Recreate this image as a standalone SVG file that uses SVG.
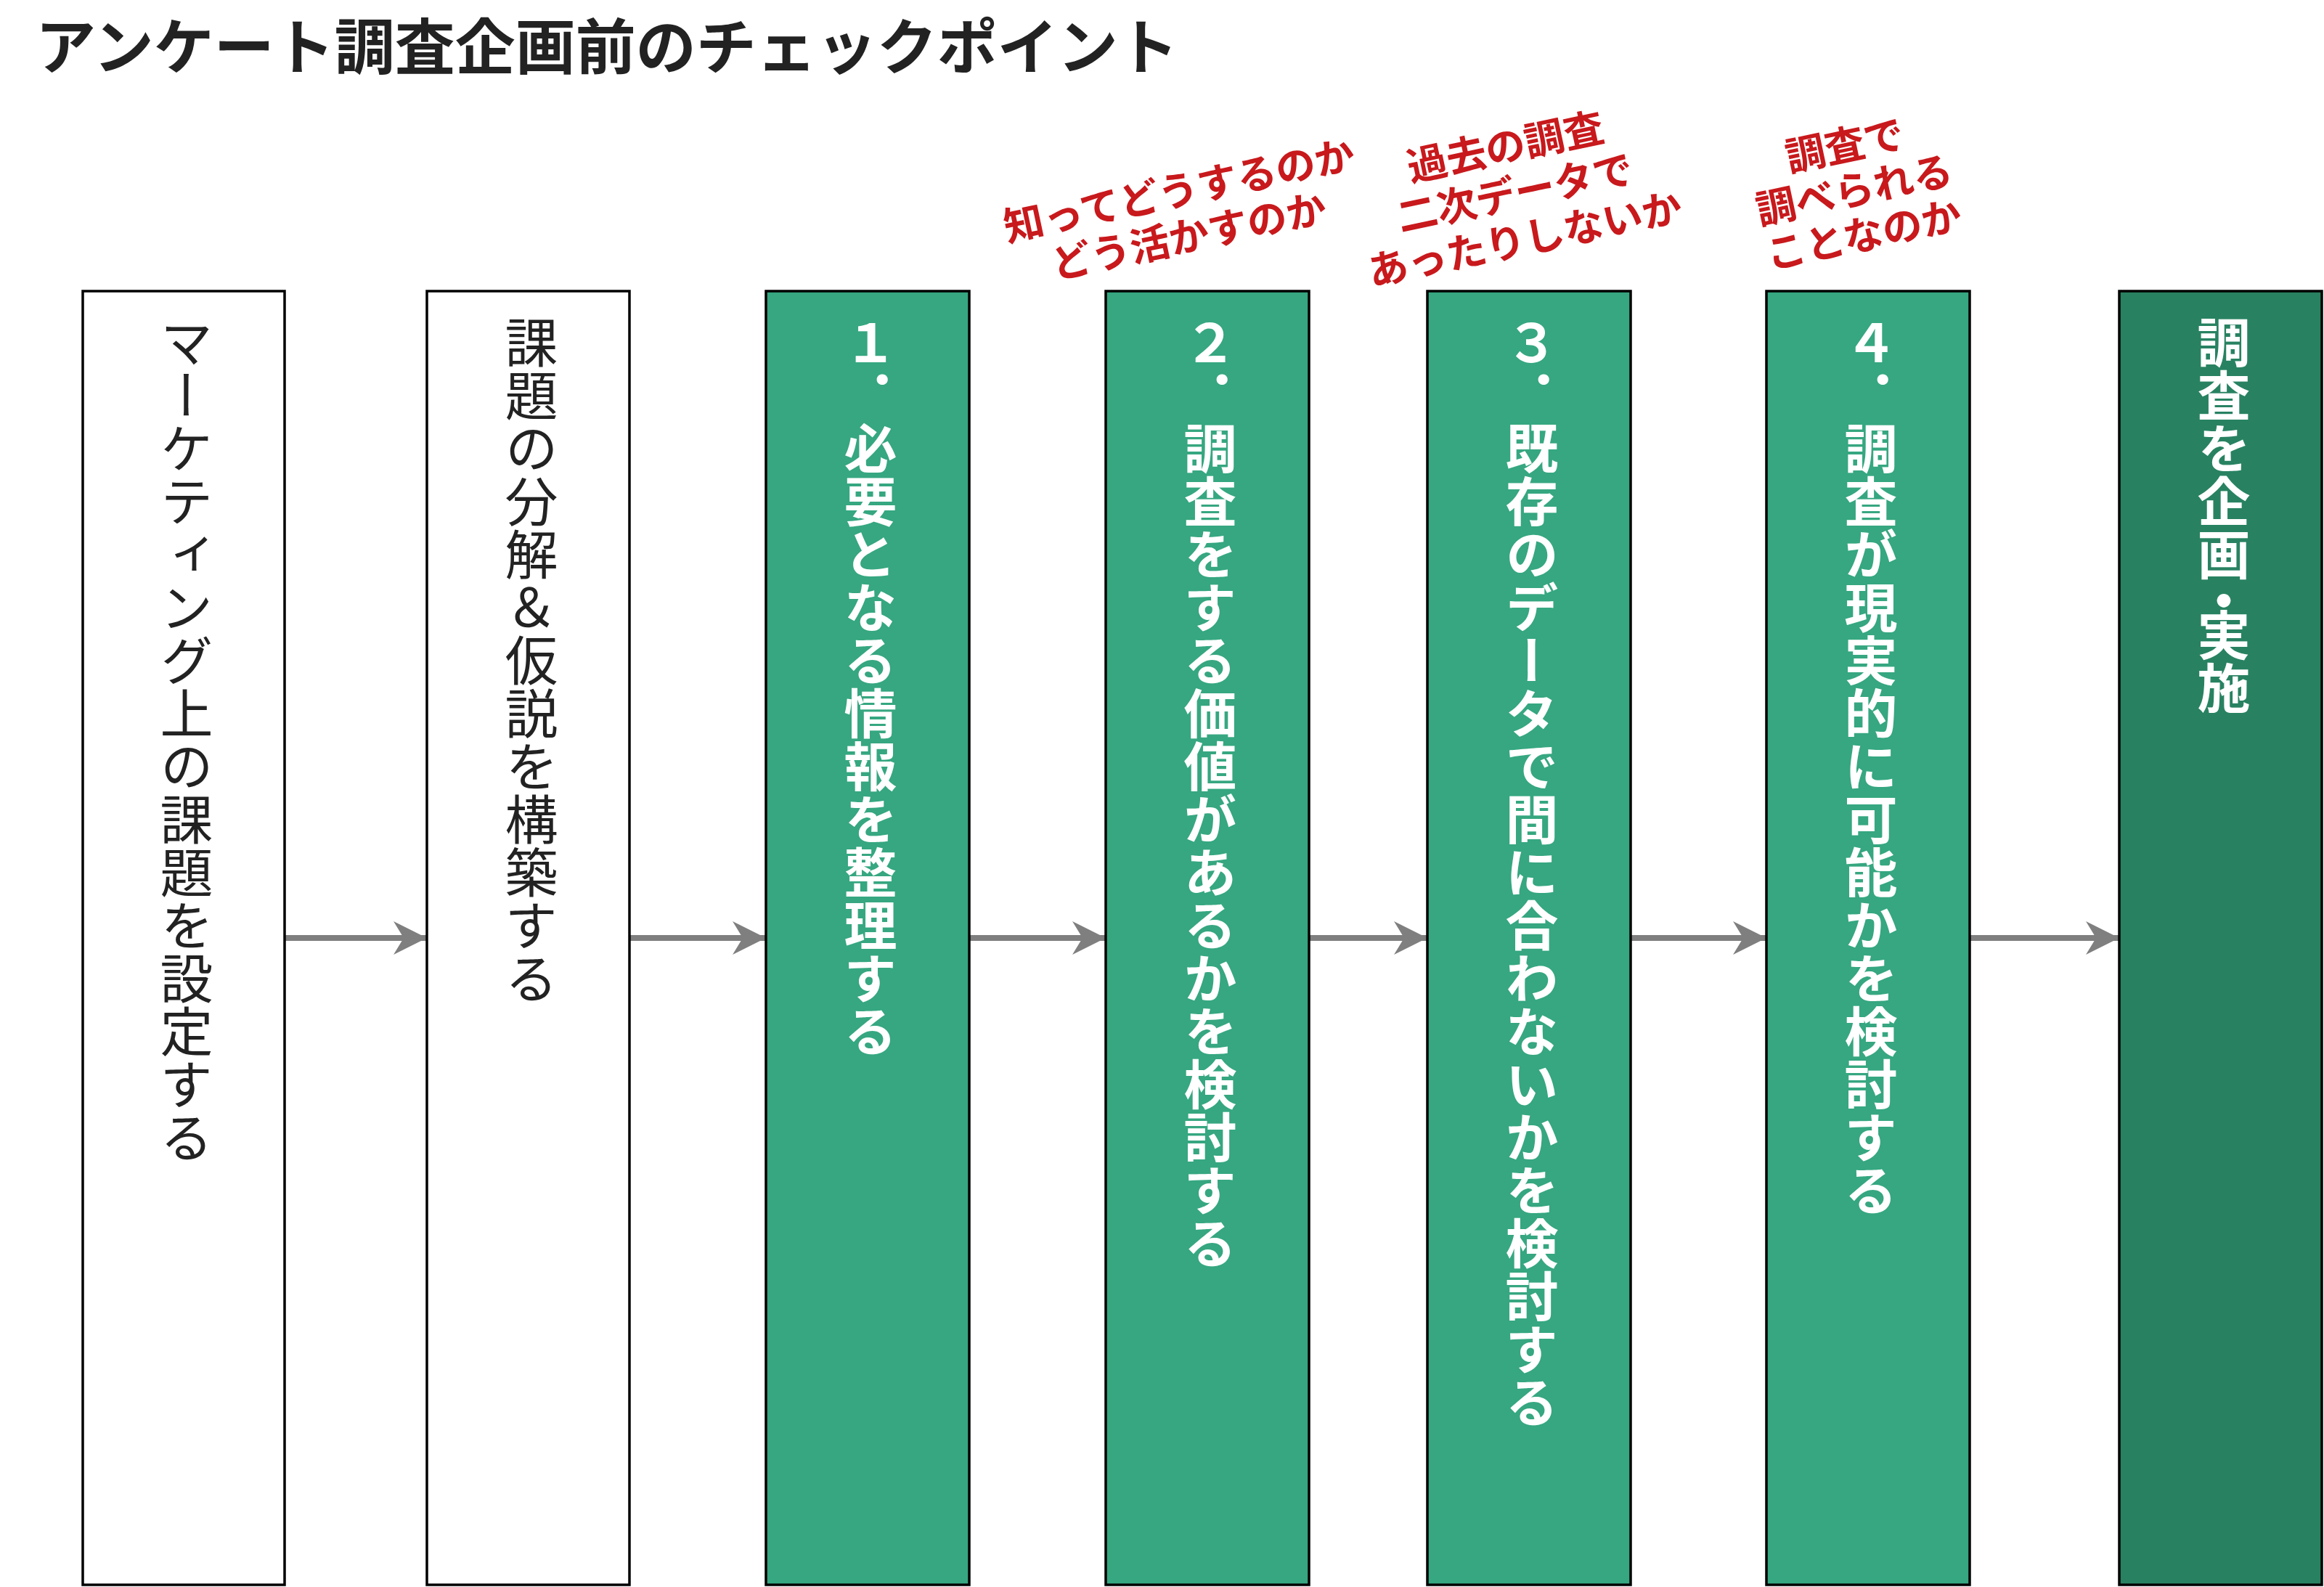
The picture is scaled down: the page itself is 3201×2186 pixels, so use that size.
<svg xmlns="http://www.w3.org/2000/svg" width="3201" height="2186" viewBox="0 0 3201 2186">
<defs>
<style>
.box{stroke:#000;stroke-width:3.5}
.w{fill:#fff}
.g{fill:#36a780}
.dg{fill:#288262}
.vt{writing-mode:vertical-rl;text-orientation:upright;font-family:"Noto Sans CJK JP","Noto Sans CJK SC",sans-serif;font-size:73px}
.reg{fill:#222;font-weight:400}
.bold{fill:#fff;font-weight:700}
.red{fill:#c8191c;font-family:"Noto Sans CJK JP","Noto Sans CJK SC",sans-serif;font-size:55px;font-weight:700;text-anchor:middle;dominant-baseline:central}
.arr{stroke:#7f7f7f;stroke-width:8;fill:none}
</style>
<marker id="ah" markerUnits="userSpaceOnUse" markerWidth="48" markerHeight="48" refX="46" refY="23" orient="auto" viewBox="0 0 48 48">
<path d="M0,0 L46,23 L0,46 L14,23 Z" fill="#7f7f7f"/>
</marker>
</defs>
<rect width="3201" height="2186" fill="#fff"/>
<text id="title" x="49" y="95" font-family="'Noto Sans CJK JP','Noto Sans CJK SC',sans-serif" font-size="83" font-weight="700" fill="#222">アンケート調査企画前のチェックポイント</text>

<g id="connectors">
<line class="arr" x1="392" y1="1292" x2="588" y2="1292" marker-end="url(#ah)"/>
<line class="arr" x1="868" y1="1292" x2="1055" y2="1292" marker-end="url(#ah)"/>
<line class="arr" x1="1335" y1="1292" x2="1523" y2="1292" marker-end="url(#ah)"/>
<line class="arr" x1="1803" y1="1292" x2="1966" y2="1292" marker-end="url(#ah)"/>
<line class="arr" x1="2246" y1="1292" x2="2433" y2="1292" marker-end="url(#ah)"/>
<line class="arr" x1="2713" y1="1292" x2="2919" y2="1292" marker-end="url(#ah)"/>
</g>

<g id="node1">
<rect class="box w" x="114" y="401" width="278" height="1782"/>
<text class="vt reg" x="257" y="435">マーケティング上の課題を設定する</text>
</g>
<g id="node2">
<rect class="box w" x="588" y="401" width="279" height="1782"/>
<text class="vt reg" x="732" y="435">課題の分解＆仮説を構築する</text>
</g>
<g id="node3">
<rect class="box g" x="1055" y="401" width="280" height="1782"/>
<text class="vt bold" x="1199" y="435">１．必要となる情報を整理する</text>
</g>
<g id="node4">
<rect class="box g" x="1523" y="401" width="280" height="1782"/>
<text class="vt bold" x="1667" y="435">２．調査をする価値があるかを検討する</text>
</g>
<g id="node5">
<rect class="box g" x="1966" y="401" width="280" height="1782"/>
<text class="vt bold" x="2110" y="435">３．既存のデータで間に合わないかを検討する</text>
</g>
<g id="node6">
<rect class="box g" x="2433" y="401" width="280" height="1782"/>
<text class="vt bold" x="2577" y="435">４．調査が現実的に可能かを検討する</text>
</g>
<g id="node7">
<rect class="box dg" x="2919" y="401" width="279" height="1782"/>
<text class="vt bold" x="3063" y="435">調査を企画</text>
<text class="vt bold" x="3063" y="791">・</text>
<text class="vt bold" x="3063" y="838">実施</text>
</g>

<g id="note1" transform="translate(1630,290) rotate(-12)">
<text class="red" x="0" y="-32">知ってどうするのか</text>
<text class="red" x="0" y="32">どう活かすのか</text>
</g>
<g id="note2" transform="translate(2086,262) rotate(-12)">
<text class="red" x="0" y="-65">過去の調査</text>
<text class="red" x="0" y="0">二次データで</text>
<text class="red" x="0" y="65">あったりしないか</text>
</g>
<g id="note3" transform="translate(2553,258) rotate(-12)">
<text class="red" x="0" y="-63">調査で</text>
<text class="red" x="0" y="0">調べられる</text>
<text class="red" x="0" y="63">ことなのか</text>
</g>
</svg>
